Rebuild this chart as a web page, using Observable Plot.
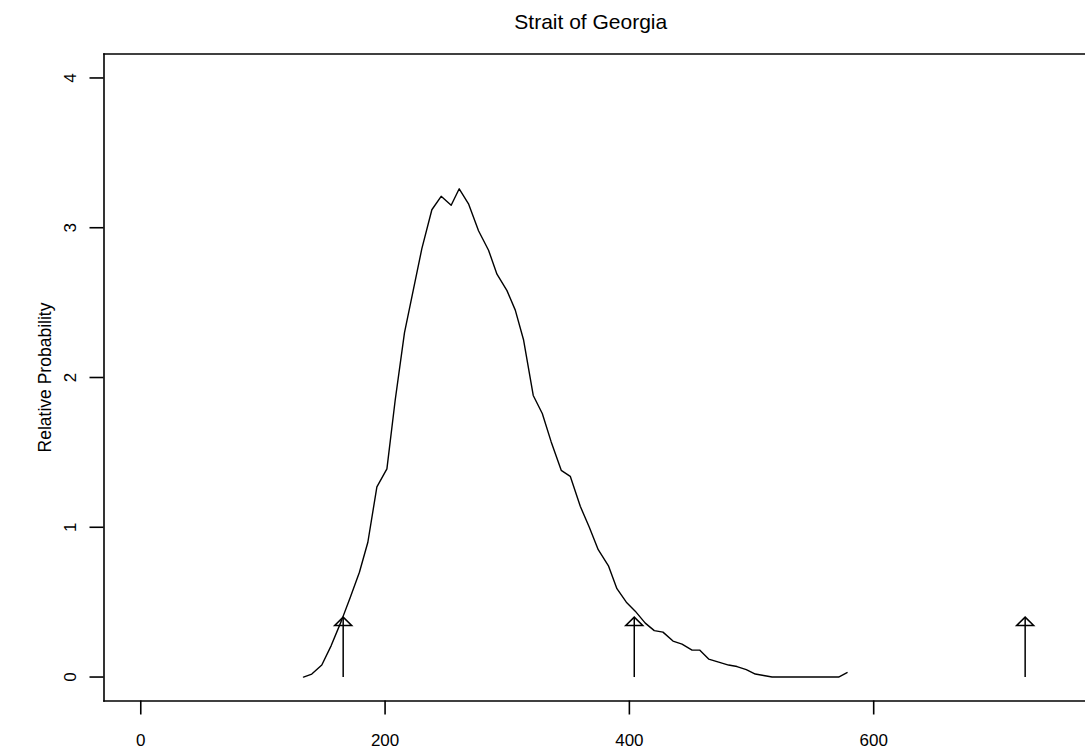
<!DOCTYPE html>
<html><head><meta charset="utf-8">
<script src="https://cdn.jsdelivr.net/npm/d3@7"></script>
<script src="https://cdn.jsdelivr.net/npm/@observablehq/plot@0.6"></script>
<style>html,body{margin:0;padding:0;background:#fff;overflow:hidden} svg{display:block}</style>
</head><body><div id="chart"></div>
<script>
const title = "Strait of Georgia";
const yLabel = "Relative Probability";
const xTicks = [0, 200, 400, 600];
const yTicks = [0, 1, 2, 3, 4];

const curveX = [133.2, 140.0, 148.2, 155.9, 164.0, 171.4, 179.0, 185.9, 193.3, 201.5,
  208.3, 215.9, 223.0, 230.1, 238.3, 245.9, 254.1, 260.7, 268.3, 276.5,
  284.7, 291.6, 299.8, 306.6, 313.4, 321.3, 328.7, 336.0, 344.2, 351.6,
  359.8, 367.2, 374.5, 383.0, 389.8, 397.5, 404.8, 413.0, 420.4, 427.5,
  435.7, 443.1, 451.3, 457.5, 464.9, 473.1, 481.2, 488.1, 495.7, 503.1,
  509.9, 516.8, 524.4, 531.8, 539.6, 547.3, 555.1, 562.9, 571.3, 578.2];
const curveY = [0.00, 0.02, 0.08, 0.21, 0.37, 0.53, 0.70, 0.90, 1.27, 1.39,
  1.85, 2.30, 2.58, 2.86, 3.12, 3.21, 3.15, 3.26, 3.16, 2.98,
  2.85, 2.69, 2.58, 2.45, 2.25, 1.88, 1.76, 1.57, 1.38, 1.34,
  1.14, 1.00, 0.85, 0.74, 0.59, 0.50, 0.44, 0.36, 0.31, 0.30,
  0.24, 0.22, 0.18, 0.18, 0.12, 0.10, 0.08, 0.07, 0.05, 0.02,
  0.01, 0.00, 0.00, 0.00, 0.00, 0.00, 0.00, 0.00, 0.00, 0.03];

const arrowX = [165.7, 404.0, 724.0];
const arrowTop = [0.40, 0.40, 0.40];

const curve = curveX.map((x, i) => ({x, y: curveY[i]}));
const arrows = arrowX.map((x, i) => ({x, y1: 0, y2: arrowTop[i]}));

const headSymbol = {
  draw(context) {
    context.moveTo(0, 0);
    context.lineTo(-8.5, 8.3);
    context.lineTo(8.5, 8.3);
    context.closePath();
  }
};

const font = "'Liberation Sans', Arial, Helvetica, sans-serif";

const chart = Plot.plot({
  width: 1085,
  height: 749,
  marginLeft: 103.5,
  marginRight: 0,
  marginTop: 53.5,
  marginBottom: 48.5,
  style: {fontFamily: font, background: "#fff", color: "#000"},
  x: {domain: [-30.1, 773.4], axis: null},
  y: {domain: [-0.16, 4.16], axis: null},
  marks: [
    Plot.frame({anchor: "left", stroke: "#000", strokeWidth: 1.6}),
    Plot.frame({anchor: "top", stroke: "#000", strokeWidth: 1.6}),
    Plot.frame({anchor: "bottom", stroke: "#000", strokeWidth: 1.6}),
    Plot.axisX({ticks: xTicks, tickSize: 14, tickPadding: 19, fontSize: 17, strokeWidth: 1.6, label: null, tickFormat: d => String(d)}),
    Plot.axisY({ticks: yTicks, tickSize: 14, strokeWidth: 1.6, label: null, tickFormat: () => ""}),
    Plot.text(yTicks, {y: d => d, text: d => String(d), frameAnchor: "left", textAnchor: "middle", lineAnchor: "middle", dx: -33.5, rotate: -90, fontSize: 17, fill: "#000"}),
    Plot.line(curve, {x: "x", y: "y", stroke: "#000", strokeWidth: 1.4}),
    Plot.link(arrows, {x1: "x", x2: "x", y1: "y1", y2: "y2", stroke: "#000", strokeWidth: 1.5}),
    Plot.dot(arrows, {x: "x", y: "y2", symbol: headSymbol, fill: "none", stroke: "#000", strokeWidth: 1.5}),
    Plot.text([title], {text: d => d, frameAnchor: "top", textAnchor: "middle", lineAnchor: "middle", dy: -31.5, dx: -4, fontSize: 21, fill: "#000"}),
    Plot.text([yLabel], {text: d => d, frameAnchor: "left", textAnchor: "middle", lineAnchor: "middle", dx: -58.5, rotate: -90, fontSize: 17.5, fill: "#000"})
  ]
});
document.getElementById("chart").appendChild(chart);
</script>
</body></html>
